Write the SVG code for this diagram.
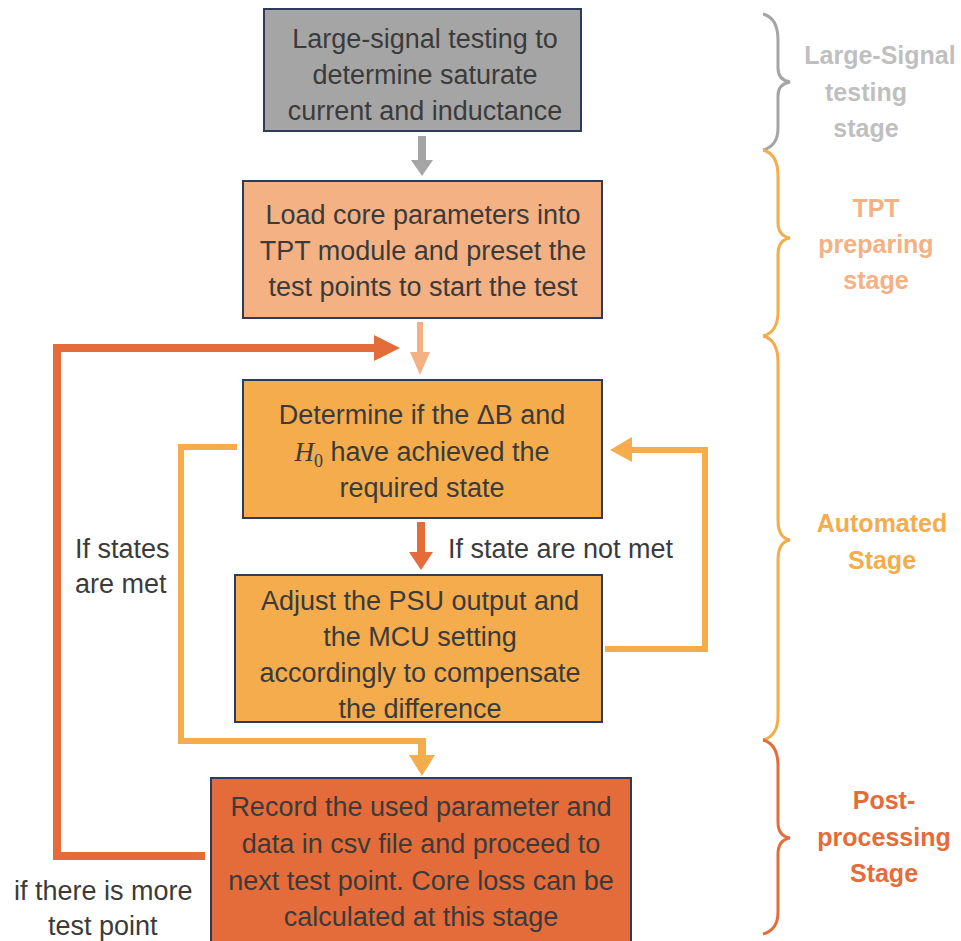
<svg xmlns="http://www.w3.org/2000/svg" width="961" height="941" viewBox="0 0 961 941">
<style>
.box{stroke:#2f3b5c;stroke-width:2}
.t{font-family:"Liberation Sans",Arial,sans-serif;font-size:27px;fill:#3b3b3b;text-anchor:middle}
.lbl{font-family:"Liberation Sans",Arial,sans-serif;font-size:27px;fill:#3b3b3b}
.st{font-family:"Liberation Sans",Arial,sans-serif;font-size:25px;font-weight:bold;text-anchor:middle}
.br{fill:none;stroke-width:3}
</style>
<rect width="961" height="941" fill="#ffffff"/>
<g id="connectors">
  <polygon points="418,136 426,136 426,160 433,160 422,176 411,160 418,160" fill="#a5a5a5"/>
  <polygon points="417,322 423,322 423,352 430,352 420,375 410,352 417,352" fill="#f4b183"/>
  <polygon points="53,860 53,344 374,344 374,335 400,348 374,361 374,352 61,352 61,852 205,852 205,860" fill="#e46c3a"/>
  <polygon points="417,522 425,522 425,552 433,552 421,570 409,552 417,552" fill="#e46c3a"/>
  <polygon points="605,646 702,646 702,453 632,453 632,462 610,450 632,437 632,447 708,447 708,652 605,652" fill="#f4ac4d"/>
  <polygon points="237,444 178,444 178,744 418,744 418,755 409,755 422,776 435,755 426,755 426,738 184,738 184,450 237,450" fill="#f4ac4d"/>
</g>
<g id="node1">
  <rect class="box" x="264" y="9" width="317" height="122" fill="#a5a5a5"/>
  <text class="t" x="425" y="48">Large-signal testing to</text>
  <text class="t" x="425" y="84">determine saturate</text>
  <text class="t" x="425" y="120">current and inductance</text>
</g>
<g id="node2">
  <rect class="box" x="243" y="181" width="359" height="137" fill="#f4b183"/>
  <text class="t" x="423" y="224">Load core parameters into</text>
  <text class="t" x="423" y="260">TPT module and preset the</text>
  <text class="t" x="423" y="296">test points to start the test</text>
</g>
<g id="node3">
  <rect class="box" x="243" y="380" width="359" height="138" fill="#f4ac4d"/>
  <text class="t" x="422" y="424">Determine if the ΔB and</text>
  <text class="t" x="422" y="461"><tspan font-family="Liberation Serif,serif" font-style="italic">H</tspan><tspan font-family="Liberation Serif,serif" font-size="18" dy="6">0</tspan><tspan dy="-6"> have achieved the</tspan></text>
  <text class="t" x="422" y="497">required state</text>
</g>
<g id="node4">
  <rect class="box" x="235" y="575" width="367" height="147" fill="#f4ac4d"/>
  <text class="t" x="420" y="610">Adjust the PSU output and</text>
  <text class="t" x="420" y="646">the MCU setting</text>
  <text class="t" x="420" y="682">accordingly to compensate</text>
  <text class="t" x="420" y="718">the difference</text>
</g>
<g id="node5">
  <rect class="box" x="211" y="778" width="420" height="170" fill="#e46c3a"/>
  <text class="t" x="421" y="816">Record the used parameter and</text>
  <text class="t" x="421" y="853">data in csv file and proceed to</text>
  <text class="t" x="421" y="890">next test point. Core loss can be</text>
  <text class="t" x="421" y="926">calculated at this stage</text>
</g>
<g id="labels">
  <text class="lbl" x="448" y="558">If state are not met</text>
  <text class="lbl" x="75" y="558">If states</text>
  <text class="lbl" x="75" y="593">are met</text>
  <text class="lbl" x="14" y="900">if there is more</text>
  <text class="lbl" x="48" y="935">test point</text>
</g>
<g id="stages">
  <path class="br" stroke="#a5a5a5" d="M763,14 Q778,18 778,40 L778,68 Q778,80 790,82 Q778,84 778,96 L778,128 Q778,146 763,150"/>
  <path class="br" stroke="#f4ac4d" d="M763,150 Q778,154 778,176 L778,222 Q778,236 790,238 Q778,240 778,254 L778,312 Q778,332 763,336"/>
  <path class="br" stroke="#f4ac4d" d="M763,336 Q778,340 778,362 L778,520 Q778,538 790,540 Q778,542 778,560 L778,716 Q778,736 763,740"/>
  <path class="br" stroke="#e46c3a" d="M763,740 Q778,744 778,766 L778,822 Q778,836 790,838 Q778,840 778,854 L778,912 Q778,930 763,934"/>
  <text class="st" fill="#bfbfbf" x="880" y="64">Large-Signal</text>
  <text class="st" fill="#bfbfbf" x="866" y="101">testing</text>
  <text class="st" fill="#bfbfbf" x="866" y="137">stage</text>
  <text class="st" fill="#f4b183" x="876" y="217">TPT</text>
  <text class="st" fill="#f4b183" x="876" y="253">preparing</text>
  <text class="st" fill="#f4b183" x="876" y="289">stage</text>
  <text class="st" fill="#f4ac4d" x="882" y="532">Automated</text>
  <text class="st" fill="#f4ac4d" x="882" y="569">Stage</text>
  <text class="st" fill="#e46c3a" x="884" y="809">Post-</text>
  <text class="st" fill="#e46c3a" x="884" y="846">processing</text>
  <text class="st" fill="#e46c3a" x="884" y="882">Stage</text>
</g>
</svg>
